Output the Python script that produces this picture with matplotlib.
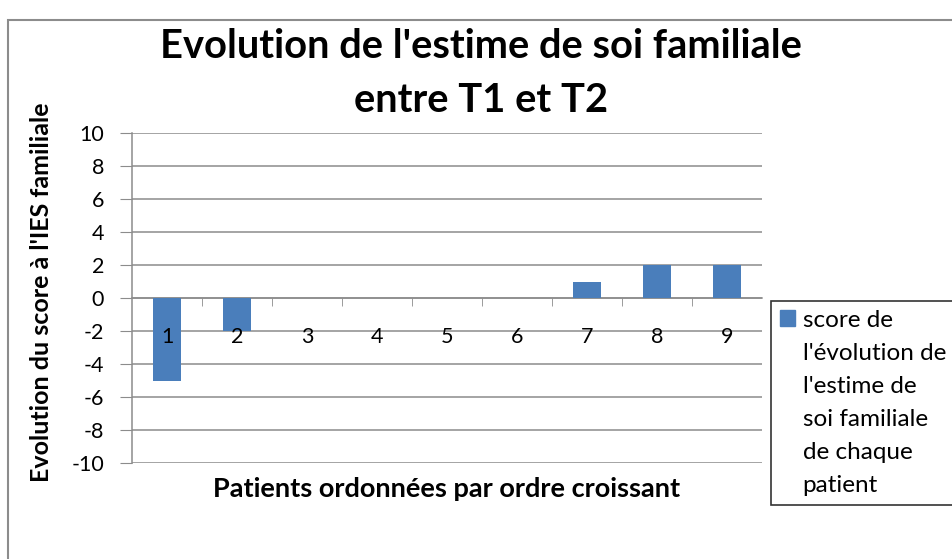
import matplotlib
matplotlib.use("Agg")
import matplotlib.pyplot as plt
from matplotlib.patches import Rectangle, Patch

plt.rcParams['font.family'] = ['Lato', 'DejaVu Sans']

patients = ['1', '2', '3', '4', '5', '6', '7', '8', '9']
scores = [-5, -2, 0, 0, 0, 0, 1, 2, 2]
yticks = [-10, -8, -6, -4, -2, 0, 2, 4, 6, 8, 10]

W, H = 952, 559
fig = plt.figure(figsize=(W / 100, H / 100), dpi=100)

# outer chart border
fig.patches.append(Rectangle((8 / W, -0.05), 1.1, 1 - 20 / H + 0.05, transform=fig.transFigure,
                             fill=False, edgecolor='#8c8c8c', linewidth=1.5))

ax = fig.add_axes([132 / W, 1 - 463 / H, (762 - 132) / W, (463 - 133) / H])
x = list(range(len(patients)))
ax.bar(x, scores, width=0.4, color='#4a7ebb', zorder=2)
ax.set_xlim(-0.5, len(patients) - 0.5)
ax.set_ylim(-10, 10)
ax.set_yticks(yticks)
ax.set_yticklabels([str(v) for v in yticks], fontsize=15.5)
ax.yaxis.grid(True, color='#8c8c8c', linewidth=1.1)
ax.yaxis.set_zorder(1)
ax.xaxis.set_zorder(4)
ax.tick_params(axis='y', length=9, color='#8c8c8c', pad=11)

for s in ['top', 'right']:
    ax.spines[s].set_visible(False)
ax.spines['left'].set_color('#8c8c8c')
ax.spines['left'].set_linewidth(1.1)
ax.spines['left'].set_zorder(1.5)
ax.spines['bottom'].set_position(('data', 0))
ax.spines['bottom'].set_color('#8c8c8c')
ax.spines['bottom'].set_linewidth(1.1)
ax.spines['bottom'].set_zorder(1.5)

ax.set_xticks(x)
ax.set_xticklabels(patients, fontsize=15.5)
ax.tick_params(axis='x', length=0, pad=21)
ax.set_xticks([i + 0.5 for i in x[:-1]], minor=True)
ax.tick_params(axis='x', which='minor', length=6, direction='out', color='#8c8c8c')

fig.text(481 / W, 1 - 47 / H, "Evolution de l'estime de soi familiale", ha='center', va='center',
         fontsize=28.7, fontweight='bold')
fig.text(481 / W, 1 - 100 / H, "entre T1 et T2", ha='center', va='center',
         fontsize=28.7, fontweight='bold')
fig.text(42 / W, 1 - 292 / H, "Evolution du score à l'IES familiale", rotation=90,
         ha='center', va='center', fontsize=18, fontweight='bold')
fig.text(447 / W, 1 - 489 / H, "Patients ordonnées par ordre croissant", ha='center', va='center',
         fontsize=19.5, fontweight='bold')

leg = fig.legend(handles=[Patch(color='#4a7ebb')],
                 labels=["score de\nl'évolution de\nl'estime de\nsoi familiale\nde chaque\npatient"],
                 loc='upper left', bbox_to_anchor=(771 / W, 1 - 301 / H), fontsize=17.5,
                 frameon=True, fancybox=False, edgecolor='black', handlelength=0.62,
                 handleheight=0.62, handletextpad=0.3, borderaxespad=0, borderpad=0.38)
leg.get_frame().set_linewidth(1.2)
for t in leg.get_texts():
    t.set_linespacing(1.7)
for col in leg._legend_handle_box.get_children():
    for item in col.get_children():
        item.align = 'top'

fig.savefig('out.png', dpi=100)
